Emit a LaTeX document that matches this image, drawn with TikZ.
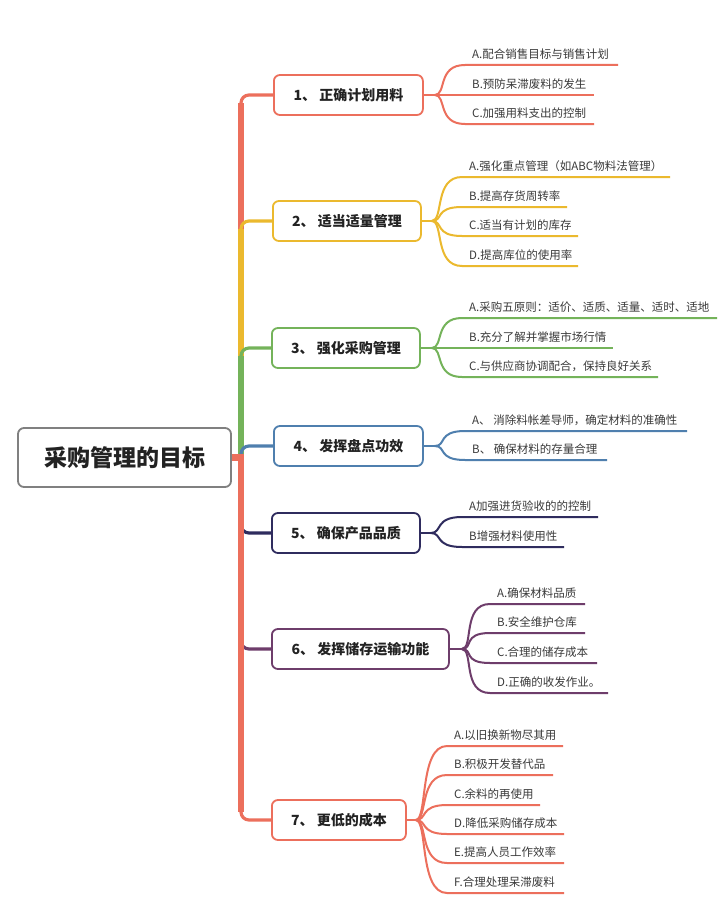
\documentclass[tikz,border=0pt]{standalone}
\usepackage{fontspec}
\setmainfont{Noto Sans CJK SC}
\usetikzlibrary{calc}
\definecolor{cA}{HTML}{EC6F5C}
\definecolor{cB}{HTML}{EBB92E}
\definecolor{cC}{HTML}{74B35A}
\definecolor{cD}{HTML}{4F7FAE}
\definecolor{cE}{HTML}{2F2C5E}
\definecolor{cF}{HTML}{6E3D6B}
\definecolor{rootgray}{HTML}{808080}
\definecolor{leafgray}{HTML}{3A3A3A}
\definecolor{boxtext}{HTML}{222222}
\newcommand\mmleaf[7]{%
  \coordinate (#3s) at (#4,#5);
  \coordinate (#3e) at (#6,#5);
  \draw[leafline,#1] (#2) .. controls +(12,0) and +(-28,0) .. (#3s) -- (#3e);
  \node[leaftext,anchor=base west] (#3) at ([xshift=7pt,yshift=6.5pt]#3s) {#7};
}
\newcommand\mmbranch[2]{%
  \draw[trunkthin,#1,rounded corners=8pt] (tj) |- (#2.west);
  \draw[trunkthick,#1] (tj) -- ($(tj |- #2.west)!8pt!(tj)$);
}
\begin{document}
\begin{tikzpicture}[x=1pt,y=-1pt,
  rootbox/.style={draw=rootgray,line width=1.8pt,rounded corners=6pt,fill=white,
    minimum width=213pt,minimum height=59pt,inner sep=0pt,text=boxtext,
    font=\fontsize{23}{28}\selectfont\bfseries},
  bbox/.style={draw=#1,line width=1.8pt,rounded corners=6pt,fill=white,
    minimum height=40pt,inner sep=0pt,text=boxtext,anchor=west,
    font=\fontsize{14}{17}\selectfont\bfseries},
  leaftext/.style={inner sep=0pt,text=leafgray,font=\fontsize{11.5}{14}\selectfont},
  leafline/.style={line width=2pt},
  trunkthin/.style={line width=3.2pt},
  trunkthick/.style={line width=6pt},
]
\useasboundingbox[fill=white] (0,0) rectangle (724,899);

% root
\node[rootbox] (root) at (124.5,457.5) {采购管理的目标};
\coordinate (tj) at (241,457.5);

% branch boxes
\node[bbox=cA,minimum width=149pt] (b1) at (273,95) {1、 正确计划用料};
\node[bbox=cB,minimum width=148pt] (b2) at (272,221) {2、 适当适量管理};
\node[bbox=cC,minimum width=148pt] (b3) at (271,348) {3、 强化采购管理};
\node[bbox=cD,minimum width=149pt] (b4) at (273,446) {4、 发挥盘点功效};
\node[bbox=cE,minimum width=148pt] (b5) at (271,533) {5、 确保产品品质};
\node[bbox=cF,minimum width=177pt] (b6) at (271,649) {6、 发挥储存运输功能};
\node[bbox=cA,minimum width=134pt] (b7) at (271,820) {7、 更低的成本};

% trunk connectors
\mmbranch{cA}{b1}
\mmbranch{cB}{b2}
\mmbranch{cC}{b3}
\mmbranch{cD}{b4}
\mmbranch{cE}{b5}
\mmbranch{cF}{b6}
\mmbranch{cA}{b7}
\draw[cA,line width=7pt] (root.east) -- ([xshift=3pt]tj);

% junctions
\coordinate (j1) at ([xshift=11pt]b1.east);
\coordinate (j2) at ([xshift=10pt]b2.east);
\coordinate (j3) at ([xshift=11pt]b3.east);
\coordinate (j4) at ([xshift=11pt]b4.east);
\coordinate (j5) at ([xshift=10pt]b5.east);
\coordinate (j6) at ([xshift=12pt]b6.east);
\coordinate (j7) at ([xshift=9pt]b7.east);
\draw[leafline,cA] (b1.east) -- (j1);
\draw[leafline,cB] (b2.east) -- (j2);
\draw[leafline,cC] (b3.east) -- (j3);
\draw[leafline,cD] (b4.east) -- (j4);
\draw[leafline,cE] (b5.east) -- (j5);
\draw[leafline,cF] (b6.east) -- (j6);
\draw[leafline,cA] (b7.east) -- (j7);

% leaves 1
\mmleaf{cA}{j1}{l1a}{465}{65}{618}{A.配合销售目标与销售计划}
\mmleaf{cA}{j1}{l1b}{465}{95}{594}{B.预防呆滞废料的发生}
\mmleaf{cA}{j1}{l1c}{465}{124}{594}{C.加强用料支出的控制}
% leaves 2
\mmleaf{cB}{j2}{l2a}{462}{177}{670}{A.强化重点管理（如ABC物料法管理）}
\mmleaf{cB}{j2}{l2b}{462}{207}{567}{B.提高存货周转率}
\mmleaf{cB}{j2}{l2c}{462}{236}{578}{C.适当有计划的库存}
\mmleaf{cB}{j2}{l2d}{462}{266}{578}{D.提高库位的使用率}
% leaves 3
\mmleaf{cC}{j3}{l3a}{462}{318}{717}{A.采购五原则：适价、适质、适量、适时、适地}
\mmleaf{cC}{j3}{l3b}{462}{348}{613}{B.充分了解并掌握市场行情}
\mmleaf{cC}{j3}{l3c}{462}{377}{658}{C.与供应商协调配合，保持良好关系}
% leaves 4
\mmleaf{cD}{j4}{l4a}{465}{431}{687}{A、 消除料帐差导师，确定材料的准确性}
\mmleaf{cD}{j4}{l4b}{465}{460}{607}{B、 确保材料的存量合理}
% leaves 5
\mmleaf{cE}{j5}{l5a}{462}{517}{598}{A加强进货验收的的控制}
\mmleaf{cE}{j5}{l5b}{462}{547}{564}{B增强材料使用性}
% leaves 6
\mmleaf{cF}{j6}{l6a}{490}{604}{585}{A.确保材料品质}
\mmleaf{cF}{j6}{l6b}{490}{633}{585}{B.安全维护仓库}
\mmleaf{cF}{j6}{l6c}{490}{663}{597}{C.合理的储存成本}
\mmleaf{cF}{j6}{l6d}{490}{693}{608}{D.正确的收发作业。}
% leaves 7
\mmleaf{cA}{j7}{l7a}{447}{746}{563}{A.以旧换新物尽其用}
\mmleaf{cA}{j7}{l7b}{447}{775}{553}{B.积极开发替代品}
\mmleaf{cA}{j7}{l7c}{447}{805}{540}{C.余料的再使用}
\mmleaf{cA}{j7}{l7d}{447}{834}{564}{D.降低采购储存成本}
\mmleaf{cA}{j7}{l7e}{447}{863}{564}{E.提高人员工作效率}
\mmleaf{cA}{j7}{l7f}{447}{893}{564}{F.合理处理呆滞废料}
\end{tikzpicture}
\end{document}
